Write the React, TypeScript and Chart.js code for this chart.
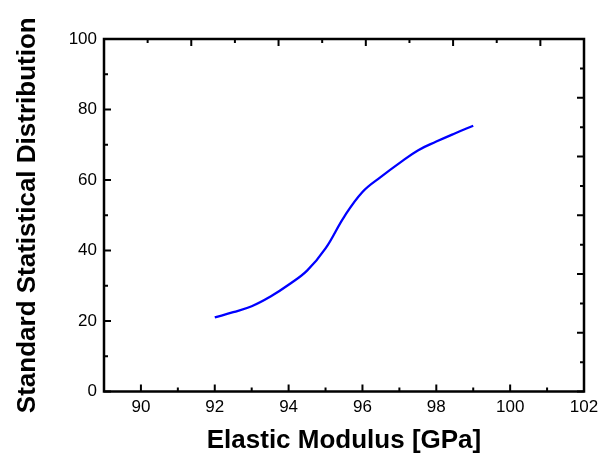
import React, { useEffect, useRef } from "react";
import { Chart, registerables } from "chart.js";

Chart.register(...registerables);

const X_VALUES = [92, 92.5, 93, 93.5, 94, 94.5, 95, 95.5, 96, 96.5, 97, 97.5, 98, 98.5, 99];
const Y_VALUES = [21.0, 22.5, 24.2, 26.9, 30.3, 34.3, 40.6, 49.5, 56.6, 60.9, 64.8, 68.4, 70.9, 73.2, 75.4];

const X_MIN = 89;
const X_MAX = 102;
const X_LABEL_TICKS = [90, 92, 94, 96, 98, 100, 102];
const X_MINOR_TICKS = [89, 91, 93, 95, 97, 99, 101];
const Y_LABEL_TICKS = [0, 20, 40, 60, 80, 100];
const Y_MINOR_TICKS = [10, 30, 50, 70, 90];
const TOP_TICKS = [0, 1, 2, 3, 4, 5, 6, 7, 8, 9, 10, 11];
const RIGHT_TICKS = [0, 1, 2, 3, 4, 5, 6, 7, 8, 9, 10, 11, 12];

const X_TITLE = "Elastic Modulus [GPa]";
const Y_TITLE = "Standard Statistical Distribution";

const FONT = "'Liberation Sans', Arial, Helvetica, sans-serif";

const framePlugin = {
  id: "frameTicks",
  afterDatasetsDraw(chart: any) {
    const { ctx, chartArea } = chart;
    const { left, right, top, bottom } = chartArea;
    const xs = chart.scales.x;
    const ys = chart.scales.y;
    const x2 = chart.scales.x2;
    const y2 = chart.scales.y2;
    const MAJ = 7;
    const MIN = 4;
    ctx.save();
    ctx.strokeStyle = "#000";
    ctx.lineWidth = 2;
    ctx.beginPath();
    X_LABEL_TICKS.forEach((v) => {
      const p = xs.getPixelForValue(v);
      ctx.moveTo(p, bottom);
      ctx.lineTo(p, bottom - MAJ);
    });
    X_MINOR_TICKS.forEach((v) => {
      const p = xs.getPixelForValue(v);
      ctx.moveTo(p, bottom);
      ctx.lineTo(p, bottom - MIN);
    });
    Y_LABEL_TICKS.forEach((v) => {
      const p = ys.getPixelForValue(v);
      ctx.moveTo(left, p);
      ctx.lineTo(left + MAJ, p);
    });
    Y_MINOR_TICKS.forEach((v) => {
      const p = ys.getPixelForValue(v);
      ctx.moveTo(left, p);
      ctx.lineTo(left + MIN, p);
    });
    TOP_TICKS.forEach((v) => {
      const p = x2.getPixelForValue(v);
      const len = v % 2 === 0 ? MAJ : MIN;
      ctx.moveTo(p, top);
      ctx.lineTo(p, top + len);
    });
    RIGHT_TICKS.forEach((v) => {
      const p = y2.getPixelForValue(v);
      const len = v % 2 === 0 ? MAJ : MIN;
      ctx.moveTo(right, p);
      ctx.lineTo(right - len, p);
    });
    ctx.stroke();
    ctx.lineWidth = 2.5;
    ctx.strokeRect(left, top, right - left, bottom - top);
    ctx.restore();
  },
};

export default function App() {
  const ref = useRef<HTMLCanvasElement | null>(null);

  useEffect(() => {
    document.body.style.margin = "0";
    const canvas = ref.current;
    if (!canvas) return;
    const chart = new Chart(canvas, {
      type: "line",
      data: {
        datasets: [
          {
            data: X_VALUES.map((x, i) => ({ x, y: Y_VALUES[i] })),
            borderColor: "#0000ff",
            borderWidth: 2.3,
            pointRadius: 0,
            tension: 0.4,
            fill: false,
          },
        ],
      },
      options: {
        responsive: false,
        animation: false,
        events: [],
        layout: { padding: { left: 0, top: 39, right: 17, bottom: 0 } },
        plugins: {
          legend: { display: false },
          tooltip: { enabled: false },
        },
        scales: {
          x: {
            type: "linear",
            position: "bottom",
            min: X_MIN,
            max: X_MAX,
            afterBuildTicks: (s: any) => {
              s.ticks = X_LABEL_TICKS.map((v) => ({ value: v }));
            },
            afterFit: (s: any) => {
              s.height = 67.5;
              s.paddingRight = 0;
              s.paddingLeft = 0;
            },
            grid: { display: false, drawTicks: false },
            border: { display: false },
            ticks: {
              padding: 6,
              color: "#000",
              font: { family: FONT, size: 17 },
              maxRotation: 0,
            },
            title: {
              display: true,
              text: X_TITLE,
              color: "#000",
              font: { family: FONT, size: 26, weight: "bold" },
              padding: { top: 0, bottom: 2.5 },
            },
          },
          y: {
            type: "linear",
            position: "left",
            min: 0,
            max: 100,
            afterBuildTicks: (s: any) => {
              s.ticks = Y_LABEL_TICKS.map((v) => ({ value: v }));
            },
            afterFit: (s: any) => {
              s.width = 104;
              s.paddingTop = 0;
              s.paddingBottom = 0;
            },
            grid: { display: false, drawTicks: false },
            border: { display: false },
            ticks: {
              padding: 7,
              color: "#000",
              font: { family: FONT, size: 17 },
            },
            title: {
              display: true,
              text: Y_TITLE,
              color: "#000",
              font: { family: FONT, size: 26, weight: "bold" },
              padding: { top: 12, bottom: 0 },
            },
          },
          x2: {
            type: "linear",
            position: "top",
            display: false,
            min: TOP_TICKS[0],
            max: TOP_TICKS[TOP_TICKS.length - 1],
            afterFit: (s: any) => {
              s.height = 0;
              s.paddingLeft = 0;
              s.paddingRight = 0;
            },
          },
          y2: {
            type: "linear",
            position: "right",
            display: false,
            min: RIGHT_TICKS[0],
            max: RIGHT_TICKS[RIGHT_TICKS.length - 1],
            afterFit: (s: any) => {
              s.width = 0;
              s.paddingTop = 0;
              s.paddingBottom = 0;
            },
          },
        },
      },
      plugins: [framePlugin],
    } as any);
    return () => chart.destroy();
  }, []);

  return (
    <div style={{ width: 601, height: 459, background: "#fff" }}>
      <canvas ref={ref} width={601} height={459} style={{ display: "block" }} />
    </div>
  );
}
